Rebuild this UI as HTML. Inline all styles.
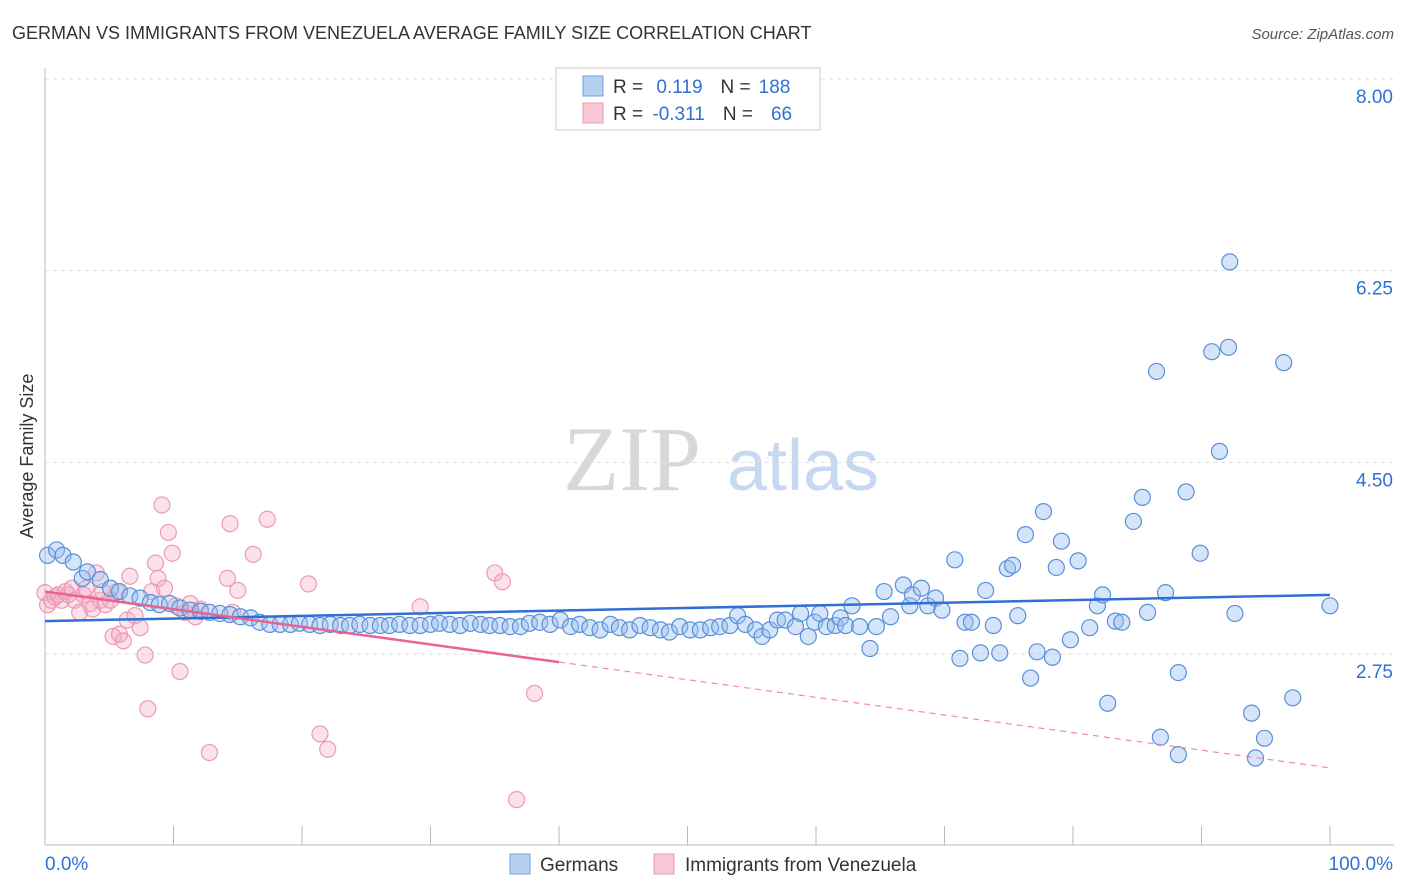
<!DOCTYPE html>
<html><head><meta charset="utf-8">
<style>
body{margin:0;background:#fff;font-family:"Liberation Sans",sans-serif;}
#wrap{position:relative;width:1406px;height:892px;overflow:hidden;}
</style></head>
<body>
<div id="wrap">
<svg id="chart" width="1406" height="892">
  <text x="12" y="39" font-size="18" fill="#333">GERMAN VS IMMIGRANTS FROM VENEZUELA AVERAGE FAMILY SIZE CORRELATION CHART</text>
  <text x="1394" y="39" font-size="15" fill="#555" font-style="italic" text-anchor="end">Source: ZipAtlas.com</text>
  <text x="33" y="456" font-size="18" fill="#333" text-anchor="middle" transform="rotate(-90 33 456)">Average Family Size</text>
  <g>
    <text x="632" y="490" font-size="92" fill="#d8d8d8" font-family="Liberation Serif,serif" text-anchor="middle">ZIP</text>
    <text x="803" y="490" font-size="72" fill="#c6d9f0" text-anchor="middle">atlas</text>
  </g>
  <g id="grid"></g>
  <g id="axes"></g>
  <g id="pts"></g>
  <g id="trends"></g>
  <g>
    <rect x="556" y="68" width="264" height="62" fill="#fff" stroke="#ccc"/>
    <rect x="583" y="76" width="20" height="20" fill="#b6d0f2" stroke="#6f9ee0"/>
    <rect x="583" y="103" width="20" height="20" fill="#f8c8d6" stroke="#ec9ab4"/>
    <text x="613" y="93" font-size="19" fill="#333">R =  <tspan fill="#2f6fd6" dx="8">0.119</tspan><tspan dx="18" fill="#333">N =</tspan><tspan dx="8" fill="#2f6fd6">188</tspan></text>
    <text x="613" y="120" font-size="19" fill="#333">R = <tspan fill="#2f6fd6" dx="4">-0.311</tspan><tspan dx="18" fill="#333">N =</tspan><tspan dx="18" fill="#2f6fd6">66</tspan></text>
  </g>
  <g>
    <rect x="510" y="854" width="20" height="20" fill="#b6d0f2" stroke="#6f9ee0"/>
    <text x="540" y="871" font-size="19" fill="#333">Germans</text>
    <rect x="654" y="854" width="20" height="20" fill="#f8c8d6" stroke="#ec9ab4"/>
    <text x="685" y="871" font-size="19" fill="#333">Immigrants from Venezuela</text>
  </g>
</svg>
</div>
<script>
const yTicks=[8.00,6.25,4.50,2.75];
const xTickLabels=["0.0%","100.0%"];
const blueX=[0.2,0.9,1.4,2.2,2.9,3.3,4.3,5.1,5.8,6.6,7.4,8.2,8.9,9.7,10.5,11.3,12.1,12.8,13.6,14.4,15.2,16.0,16.7,17.5,18.3,19.1,19.8,20.6,21.4,22.2,23.0,23.7,24.5,25.3,26.1,26.8,27.6,28.4,29.2,30.0,30.7,31.5,32.3,33.1,33.9,34.6,35.4,36.2,37.0,37.7,38.5,39.3,40.1,40.9,41.6,42.4,43.2,44.0,44.7,45.5,46.3,47.1,47.9,48.6,49.4,50.2,51.0,51.8,52.5,53.3,53.9,54.5,55.3,55.8,56.4,57.0,57.6,58.4,58.8,59.4,59.9,60.3,60.8,61.5,61.9,62.3,62.8,63.4,64.2,64.7,65.3,65.8,66.8,67.3,67.5,68.2,68.7,69.3,69.8,70.8,71.2,71.6,72.1,72.8,73.2,73.8,74.3,74.9,75.3,75.7,76.3,76.7,77.2,77.7,78.4,78.7,79.1,79.8,80.4,81.3,81.9,82.3,82.7,83.3,83.8,84.7,85.4,85.8,86.5,86.8,87.2,88.2,88.2,88.8,89.9,90.8,91.4,92.1,92.2,92.6,93.9,94.2,94.9,96.4,97.1,100];
const blueY=[3.65,3.70,3.65,3.59,3.44,3.50,3.43,3.35,3.32,3.28,3.26,3.22,3.20,3.21,3.17,3.15,3.14,3.13,3.12,3.11,3.09,3.08,3.04,3.02,3.02,3.02,3.03,3.02,3.01,3.02,3.01,3.01,3.02,3.01,3.01,3.01,3.02,3.01,3.01,3.02,3.03,3.02,3.01,3.03,3.02,3.01,3.01,3.00,3.00,3.03,3.04,3.02,3.06,3.00,3.02,2.99,2.97,3.02,2.99,2.97,3.01,2.99,2.97,2.95,3.00,2.97,2.97,2.99,3.00,3.01,3.10,3.02,2.97,2.91,2.97,3.06,3.06,3.00,3.12,2.91,3.04,3.12,3.00,3.01,3.08,3.01,3.19,3.00,2.80,3.00,3.32,3.09,3.38,3.19,3.29,3.35,3.19,3.26,3.15,3.61,2.71,3.04,3.04,2.76,3.33,3.01,2.76,3.53,3.56,3.10,3.84,2.53,2.77,4.05,2.72,3.54,3.78,2.88,3.60,2.99,3.19,3.29,2.30,3.05,3.04,3.96,4.18,3.13,5.33,1.99,3.31,1.83,2.58,4.23,3.67,5.51,4.60,5.55,6.33,3.12,2.21,1.80,1.98,5.41,2.35,3.19];
const pinkX=[0,0.2,0.5,0.8,1.0,1.3,1.6,1.8,2.1,2.3,2.7,3.0,3.2,3.5,3.7,4.0,4.3,4.5,4.7,5.1,5.3,5.6,5.8,6.1,6.4,6.6,7.0,7.4,7.8,8.0,8.3,8.6,8.8,9.1,9.3,9.6,9.9,10.2,10.5,10.9,11.3,11.7,12.1,12.8,14.2,14.4,14.6,15.0,16.2,17.3,20.5,21.4,22.0,29.2,35.0,35.6,36.7,38.1];
const pinkY=[3.31,3.20,3.24,3.27,3.29,3.24,3.32,3.29,3.35,3.24,3.13,3.29,3.35,3.21,3.16,3.49,3.24,3.32,3.20,3.24,2.91,3.32,2.93,2.87,3.06,3.46,3.10,2.99,2.74,2.25,3.32,3.58,3.44,4.11,3.35,3.86,3.67,3.19,2.59,3.13,3.21,3.09,3.16,1.85,3.44,3.94,3.13,3.33,3.66,3.98,3.39,2.02,1.88,3.18,3.49,3.41,1.42,2.39];
const blueTrend=[3.05,3.29];
const pinkTrend=[3.32,1.71];
const pinkSolidEnd=40;

const X0=45,X1=1330,Y8=79,PX=109.52;
const sx=v=>X0+(X1-X0)*v/100;
const sy=v=>Y8+(8-v)*PX;
const NS="http://www.w3.org/2000/svg";
function mk(tag,attrs,parent){const e=document.createElementNS(NS,tag);for(const k in attrs)e.setAttribute(k,attrs[k]);parent.appendChild(e);return e;}
const grid=document.getElementById('grid'),axes=document.getElementById('axes'),pts=document.getElementById('pts'),tr=document.getElementById('trends');
yTicks.forEach(t=>{
  const l=mk('line',{x1:X0,x2:1394,y1:sy(t),y2:sy(t),stroke:'#ddd','stroke-dasharray':'4,4'},grid);
  
  
  const tx=mk('text',{x:1393,y:sy(t)+24,'font-size':19,fill:'#2f6fd6','text-anchor':'end'},axes);
  tx.textContent=t.toFixed(2);
  
  
});
const ya=mk('line',{x1:X0,x2:X0,y1:68,y2:845,stroke:'#bbb'},axes);


const xa=mk('line',{x1:X0,x2:1394,y1:845,y2:845,stroke:'#bbb'},axes);


for(let i=0;i<=10;i++){
  const t=mk('line',{x1:sx(i*10),x2:sx(i*10),y1:826,y2:845,stroke:'#bbb'},axes);
  
  
}
const xl0=mk('text',{x:45,y:870,'font-size':19,fill:'#2f6fd6'},axes);
xl0.textContent=xTickLabels[0];


const xl1=mk('text',{x:1393,y:870,'font-size':19,fill:'#2f6fd6','text-anchor':'end'},axes);
xl1.textContent=xTickLabels[1];


pinkX.forEach((x,i)=>{
  const c=mk('circle',{cx:sx(x),cy:sy(pinkY[i]),r:8,fill:'rgba(244,170,195,0.35)',stroke:'#ec9ab4','stroke-width':1.2},pts);
  
  
});
blueX.forEach((x,i)=>{
  const c=mk('circle',{cx:sx(x),cy:sy(blueY[i]),r:8,fill:'rgba(150,190,240,0.4)',stroke:'#5a8fd8','stroke-width':1.2},pts);
  
  
});
const bt=mk('line',{x1:sx(0),y1:sy(blueTrend[0]),x2:sx(100),y2:sy(blueTrend[1]),stroke:'#2f6fd6','stroke-width':2.5},tr);


const pm=pinkTrend[0]+(pinkTrend[1]-pinkTrend[0])*pinkSolidEnd/100;
const ps=mk('line',{x1:sx(0),y1:sy(pinkTrend[0]),x2:sx(pinkSolidEnd),y2:sy(pm),stroke:'#e8638f','stroke-width':2.5},tr);


const pd=mk('line',{x1:sx(pinkSolidEnd),y1:sy(pm),x2:sx(100),y2:sy(pinkTrend[1]),stroke:'#ee8aaa','stroke-width':1.2,'stroke-dasharray':'6,5'},tr);


</script>
</body></html>
